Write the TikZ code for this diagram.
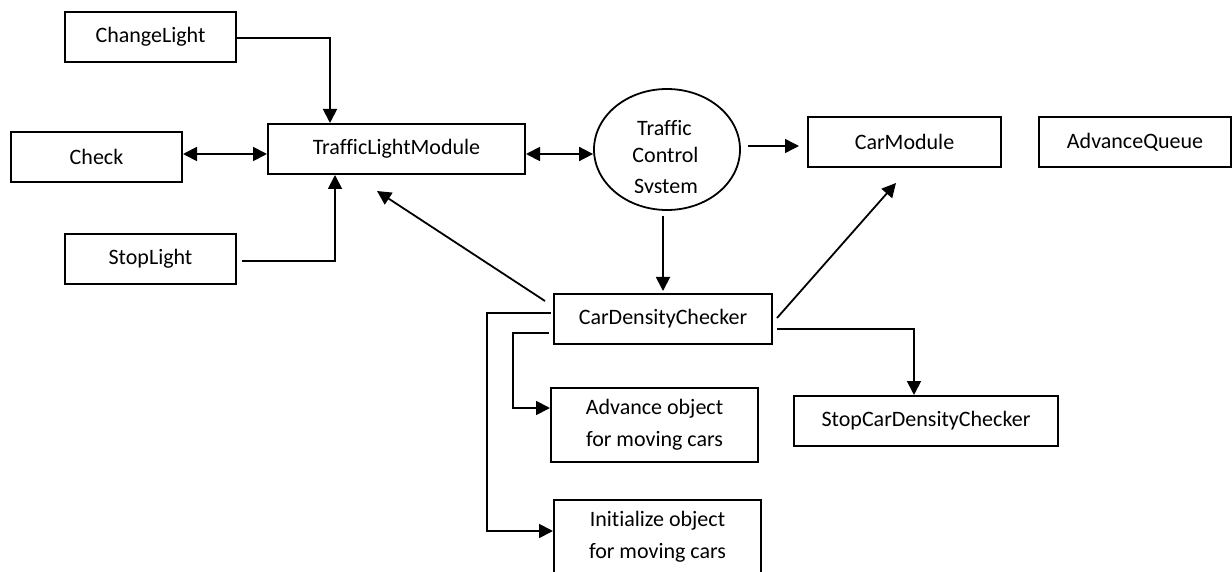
\documentclass[tikz,border=0pt]{standalone}
\usepackage{fontspec}
\setmainfont{Carlito}[Ligatures=NoCommon]
\usetikzlibrary{arrows.meta,calc,shapes.geometric}
\begin{document}
\begin{tikzpicture}[x=1pt,y=-1pt,
  box/.style={draw, line width=2pt, minimum height=50pt, inner sep=0pt,
    font=\fontsize{22}{32}\selectfont, align=center},
  lbl/.style={inner sep=0pt, font=\fontsize{22}{26}\selectfont, anchor=base},
  arr/.style={line width=1.8pt, -{Triangle[length=14pt,width=14pt]}},
  darr/.style={line width=1.8pt, {Triangle[length=14pt,width=14pt]}-{Triangle[length=14pt,width=14pt]}},
  thinarr/.style={line width=1.4pt, -{Triangle[length=14pt,width=14pt]}}]
\useasboundingbox (0,0) rectangle (1232,572);
\clip (0,0) rectangle (1232,572);
\fill[white] (0,0) rectangle (1232,572);

% nodes
\node[box, minimum width=171pt] (cl) at (150.5,37) {ChangeLight};
\node[box, minimum width=171pt] (ck) at (96.5,157) {Check};
\node[box, minimum width=257pt] (tlm) at (396.5,149) {TrafficLightModule};
\node[box, minimum width=171pt] (sl) at (150.5,259) {StopLight};
\node[draw, ellipse, line width=1.8pt, minimum width=146pt, minimum height=121pt, inner sep=0pt] (tcs) at (667,149.5) {};
\begin{scope}
  \clip (590,90) rectangle (745,193);
  \node[lbl] (tcsa) at (664.5,136) {Traffic};
  \node[lbl] (tcsb) at (665.5,163) {Control};
  \node[lbl] (tcsc) at (666,194) {System};
\end{scope}
\node[box, minimum width=193pt] (cm) at (904.5,142) {CarModule};
\node[box, minimum width=192pt] (aq) at (1135,142) {AdvanceQueue};
\node[box, minimum width=218pt] (cdc) at (663,319) {CarDensityChecker};
\node[box, minimum width=207pt, minimum height=74pt] (adv) at (654.5,425) {Advance object\\for moving cars};
\node[box, minimum width=264pt] (scdc) at (926,421) {StopCarDensityChecker};
\node[box, minimum width=207pt, minimum height=74pt] (ini) at (657.5,537) {Initialize object\\for moving cars};

% connectors
\draw[arr] ($(cl.east)+(0,1)$) -| ($(tlm.north)+(-66.5,0)$);
\draw[darr] ($(ck.east)+(0,-3)$) -- ($(tlm.west)+(0,5)$);
\draw[arr] ($(sl.east)+(5,2)$) -| ($(tlm.south)+(-61.5,0)$);
\draw[darr] ($(tlm.east)+(0,5)$) -- ($(tcs.west)+(0,4.5)$);
\draw[thinarr] ($(tcs.east)+(7,-3.5)$) -- ($(cm.west)+(-8,4)$);
\draw[arr] ($(tcs.south)+(-4,5)$) -- ($(cdc.north)+(0,-2)$);
\draw[arr] ($(cdc.north west)+(-8,8)$) -- ($(tlm.south)+(-19.5,16)$);
\draw[arr] ($(cdc.north east)+(4,25)$) -- ($(cm.south)+(-8.5,15)$);
\draw[arr] ($(cdc.east)+(4,10)$) -| ($(scdc.north)+(-12,0)$);
\draw[arr] ($(cdc.west)+(-4,14)$) -- ++(-36,0) |- ($(adv.west)+(0,-17)$);
\draw[arr] ($(cdc.west)+(-2,-6)$) -- ++(-64,0) |- ($(ini.west)+(0,-6)$);
\end{tikzpicture}
\end{document}
